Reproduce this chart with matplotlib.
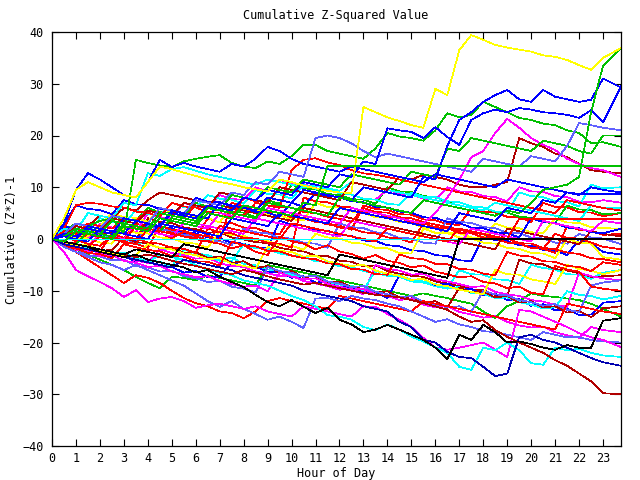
import numpy as np
import matplotlib
matplotlib.use("Agg")
import matplotlib.pyplot as plt

plt.rcParams["font.family"] = ["DejaVu Sans Mono"]

# =========================
# DATA (half-hour grid + last point at 23:45)
# =========================
hours = np.append(np.arange(0, 23.5, 0.5), 23.75)

yellow_top = [0, 4, 9.5, 11, 10, 9, 8.5, 8, 11, 14, 13.5, 12.8,
              12.2, 11.5, 11, 10.6, 10, 9.6, 9.2, 11.5, 11, 10.3, 9.8, 9.3,
              9, 8.9, 25.5, 24.5, 23.5, 22.8, 22, 21.5, 29, 27.8, 36.5, 39.4,
              38.5, 37.5, 37, 36.6, 36.2, 35.5, 35.2, 34.6, 33.6, 32.7, 35, 36.9]
green_top = [0, 0.5, 2, 1.5, 1, 3.5, 3, 2.5, 2, 5, 4.5, 4,
             3.5, 6, 5.5, 5, 4.5, 4, 7, 6.5, 6, 5.5, 5, 4.5,
             8, 7.5, 7, 6.5, 6, 5.5, 5, 7.5, 7, 6.5, 6, 5.5,
             5, 4.5, 5.5, 5, 7, 9.5, 10, 10.5, 12, 24.5, 33.5, 37]
blue_a = [0, 1, 0.5, 2, 1.5, 1, 4, 3.5, 3, 2.5, 5.5, 5,
          4.5, 4, 7, 6.5, 6, 5.5, 8, 7.5, 7, 9.5, 9, 8.5,
          8, 7.5, 10, 9.5, 9, 8.5, 8, 12, 11.5, 18, 23, 24.5,
          26.5, 27.8, 28.8, 27, 26.5, 28.8, 27.5, 27, 26.5, 26.9, 31, 29.3]
blue_b = [0, 0.5, 0, 2.5, 2, 1.5, 1, 3.5, 3, 2.5, 5, 4.5,
          4, 6.5, 6, 5.5, 8, 7.5, 9.5, 9, 8.5, 11, 10.5, 10,
          12.5, 12, 15, 14.5, 21.4, 21, 20.7, 19.5, 21.6, 19.7, 18.2, 23,
          24.3, 25, 24.5, 25.3, 25, 24.5, 24.3, 24, 23.4, 24.9, 22.5, 29.5]
slate_a = [0, 1, 3, 2.5, 2, 4.5, 4, 3.5, 3, 6, 5.5, 5,
           7.5, 7, 6.5, 9, 8.5, 11, 10.5, 13, 12.5, 12, 19.5, 20,
           19.5, 18.5, 17, 15.8, 16.5, 16, 15.5, 15, 14.5, 14, 13.5, 13,
           15.5, 15, 14.5, 14, 16, 15.5, 15, 18, 22.4, 22, 21.5, 21]
blue_c = [0, 3, 9.5, 12.7, 11.5, 10, 8.5, 8, 11, 15.3, 13.9, 14.7,
          14, 13.5, 13, 14.5, 14, 15.5, 17.8, 17, 15.5, 14.5, 14, 13.5,
          13, 14, 13.5, 13, 12.5, 12, 11.5, 11, 12.5, 12, 11.5, 11,
          10.5, 10, 11.5, 11, 10.5, 10, 9.5, 9, 8.5, 10, 9.5, 9]
green_a = [0, 1, 0.5, 2.5, 3.5, 4, 1, 15.3, 14.7, 14.2, 13.9, 15,
           15.5, 15.9, 16.2, 14.7, 14, 13.7, 15, 14.5, 16, 18.2, 18.2, 17,
           16.5, 16, 15.5, 17.5, 20.5, 19.8, 19.5, 19, 21, 24.3, 23.5, 24,
           26.5, 25.5, 24.5, 23.4, 23, 22.3, 22, 21, 20.5, 18.5, 18.7, 17.8]
green_b = [0, -0.5, -1, 1.5, 1, 0.5, 3, 2.5, 2, 1.5, 4, 3.5,
           3, 6, 5.5, 8.5, 8, 7.5, 10, 9.5, 9, 11.5, 11, 10.5,
           10, 12.5, 12, 11.5, 11, 10.5, 13, 12.5, 12, 17.5, 17, 19.5,
           19, 18.5, 18, 17.5, 17, 19, 18.5, 18, 17, 16.5, 20, 20]
green_flat = [0, -0.5, 1.5, 1, 0.5, 0, 2.5, 2, 1.5, 4, 3.5, 3,
              2.5, 5, 4.5, 4, 6.5, 6, 5.5, 5, 4.5, 7, 6.5, 14.1,
              14.1, 14.1, 14.1, 14.1, 14.1, 14.1, 14.1, 14.1, 14.1, 14.1, 14.1, 14.1,
              14.1, 14.1, 14.1, 14.1, 14.1, 14.1, 14.1, 14.1, 14.1, 14.1, 14.1, 14.1]
blue_flat = [0, 0.5, 0, -0.5, 2, 1.5, 1, 0.5, 0, 3, 2.5, 2,
             1.5, 1, 0.5, 4, 3.5, 3, 2.5, 5, 4.5, 4, 3.5, 3,
             6, 5.5, 5, 4.5, 4, 3.5, 3, 2.5, 2, 1.5, 5, 4.5,
             4, 3.5, 6, 5.5, 5, 7.5, 7, 9, 8.7, 8.7, 8.7, 8.7]
red_flat = [0, -0.5, -1, -1.5, 0.5, 0, -0.5, -1, 2, 1.5, 1, 0.5,
            0, -0.5, 2.5, 2, 1.5, 1, 0.5, 0, 3, 2.5, 2, 1.5,
            1, 0.5, 0, -0.5, 2, 1.5, 1, 0.5, 0, -0.5, 2, 1.5,
            1, 0.5, 0, 3.9, 3.9, 3.9, 3.9, 3.9, 3.9, 3.9, 3.9, 3.9]
cyan_flat = [0, 0, 0, 0, 0, 0, 0, 0, 0, 0, 0, 0,
             0, 0, 0, 0, 0, 0, 0, 0, 0, 0, 0, 0,
             0, 0, 0, 0, 0, 0, 0, 0, 0, 0, 0, 0,
             0, 0, 0, 0, 0, 0, 0, 0, 0, 0, 0, 0]
black_flat = [0, -0.5, -1, -1.5, -2, -2.5, -3, -2, -2.5, -3, -3.5, -1,
              -1.5, -2, -2.5, -3, -3.5, -4, -4.5, -5, -5.5, -6, -6.5, -7,
              -3, -3.5, -4, -4.5, -5, -5.5, -6, -6.5, -7, -7.5, 0, 0,
              0, 0, 0, 0, 0, 0, 0, 0, 0, 0, 0, 0]
black_low = [0, -0.5, -1, -1.5, -2.5, -3, -3.5, -3, -4, -4.5, -5, -5.5,
             -6.5, -6, -7.3, -8.3, -9.3, -10.8, -12.2, -13, -11.8, -13.1, -14.3, -13.3,
             -15.6, -16.5, -18, -17.5, -16.6, -17.5, -18.5, -19.5, -21, -23.2, -18.5, -19.5,
             -16.6, -18, -20, -19.8, -20.3, -21, -21.4, -20.5, -21, -21, -15.8, -15.3]
darkred_low = [0, -0.5, -1, -1.5, -2, -2.5, -3, -3.5, -3, -3.5, -4.2, -4.8,
               -5.2, -5.8, -6.3, -6.8, -6, -6.5, -7.2, -7.8, -8.3, -8.8, -8.5, -9,
               -9.5, -10, -10.4, -10.8, -11, -11.3, -11.8, -12.4, -13, -13.7, -15, -16,
               -15.7, -17.6, -18.9, -20, -21, -22, -23.4, -24.5, -26, -27.5, -29.8, -30]
navy_low = [0, -1, -1.5, -2, -2.5, -3, -3.5, -4, -4.5, -5, -5.5, -4,
            -4.5, -5, -5.5, -6, -7, -7.5, -8, -8.5, -9, -10, -10.5, -11,
            -11.5, -12, -13, -13.5, -14, -16, -17, -19.5, -20, -21.8, -22.8, -23,
            -24.7, -26.5, -26, -19, -18.5, -19.5, -20, -21, -22, -23, -23.8, -24.5]
cyan_low = [0, -1, -1.5, -2, -2.5, -3, -3.5, -4, -4.5, -3, -3.5, -4,
            -5, -6, -6.5, -7, -8, -8.5, -9, -10, -11, -11.8, -13, -14.7,
            -15, -15.6, -17, -17.6, -16.5, -17.5, -18.9, -19.8, -20.9, -22, -24.7, -25.3,
            -21, -21.5, -20, -21.5, -24, -24.3, -21, -21.5, -21.2, -22, -22.5, -22.8]
magenta_low = [0, -2.5, -6, -7.2, -8.3, -9.5, -11.2, -9.9, -12.2, -11.5, -11.2, -12,
               -13.3, -12.8, -12.5, -13, -13.5, -13, -14, -14.5, -15, -13, -13.5, -14,
               -14.5, -15, -13, -13.1, -14.5, -15.6, -17, -19.1, -21, -21.4, -21, -20.5,
               -20, -21.4, -22.8, -13.7, -14, -15, -16, -17, -18.2, -19, -19.5, -20.9]
red_low = [0, -1, -2.5, -4, -5.5, -7, -8.5, -7, -7.5, -8.5, -10, -11.4,
           -12.4, -13, -14, -14.3, -15.3, -14, -12, -11.4, -12, -12.5, -13, -13.5,
           -11, -11.5, -12, -12.5, -13, -13.5, -14, -12, -12.5, -13, -13.5, -14,
           -14.5, -15, -15.5, -16, -16.5, -17, -17.5, -12.5, -13, -13.5, -14, -14.5]
slate_low = [0, -1.5, -2.5, -3.5, -4.5, -5, -6, -5, -6, -7, -8, -9,
             -10.5, -12, -13.1, -12, -13.5, -14.5, -15.6, -15, -16, -17.2, -11.5, -11.4,
             -12, -11, -11.5, -11.8, -12.5, -13, -14, -15, -16, -15.5, -16.5, -17,
             -17.8, -18, -18.5, -19, -19.5, -18, -18.5, -19, -19, -19.5, -19.8, -20]
darkred_up = [0, 0.5, 2.5, 2, 1.5, 4, 3.5, 3, 5.5, 5, 4.5, 7,
              6.5, 6, 9, 8.5, 8, 7.5, 7, 10, 9.5, 9, 8.5, 8,
              7.5, 11, 10.5, 10, 9.5, 12, 11.5, 12.4, 12, 11.5, 10.5, 10,
              10, 10.5, 11, 19.5, 18.5, 17.8, 16.5, 15.8, 14.5, 13.3, 13, 12.7]
magenta_up = [0, -0.5, 1.5, 1, 0.5, 0, 2.5, 2, 1.5, 1, 0.5, 3,
              2.5, 2, 5, 4.5, 4, 3.5, 6, 5.5, 5, 4.5, 4, 3.5,
              3, 6, 5.5, 5, 4.5, 4, 3.5, 3, 5, 8, 11.4, 15.8,
              17, 20.5, 23.2, 21.5, 19.5, 18.2, 17.2, 15.5, 14.5, 13.7, 13.3, 12]
red_up = [0, 1.5, 1, 3, 2.5, 2, 4, 3.5, 5.5, 5, 4.5, 4,
          6.5, 6, 5.5, 5, 4.5, 7, 6.5, 6, 13.3, 15.3, 15.6, 14.8,
          14.3, 13.3, 12.7, 12.4, 12, 11.5, 11, 10.5, 10, 9.5, 9, 8.5,
          8, 7.5, 7, 6.5, 6, 5.5, 5, 7.5, 7, 6.5, 6, 5.5]
cyan_up = [0, 2, 1.5, 5, 4.5, 4, 7, 6.5, 12.7, 12.2, 13.5, 13.9,
           13.2, 12.5, 12, 11.5, 11, 10.5, 11.5, 11, 10.5, 10, 10.3, 9.8,
           9.3, 11, 10.5, 10, 9.5, 9, 8.5, 8, 7.5, 7, 6.5, 6,
           5.5, 7, 6.5, 6, 5.5, 5, 4.5, 4, 3.5, 6.5, 6, 6]
magenta_mid = [0, 1, 0.3, 0.1, 3, 2.2, 2.1, 1.3, 5, 4.2, 4.1, 7,
               6.3, 6.1, 8.5, 7.7, 7.6, 10, 9.2, 11.5, 10.7, 10.6, 9.8, 9.6,
               8.8, 8.6, 7.8, 7.6, 9.5, 8.8, 8.6, 7.8, 7.6, 10, 9.2, 9.1,
               8.3, 8.1, 7.3, 10, 9.2, 9.1, 8.3, 8.1, 7.2, 7.1, 7.5, 7]
red_mid_a = [0, 0.6, -0.4, 1.5, 1.2, 0.3, 0.1, 3, 2.3, 2.1, 1.2, 1.0,
             0.3, 4, 3.2, 3.1, 2.2, 2.1, 1.3, 0.9, 4.5, 3.8, 3.6, 2.8,
             2.6, 1.8, 6.5, 5.8, 5.6, 4.8, 4.7, 3.8, 3.6, 2.9, 2.7, 6,
             5.3, 5.1, 4.3, 4.2, 3.3, 7, 6.2, 6.1, 5.2, 5.1, 4.4, 5]
yellow_mid = [0, 1.5, 0.8, 0.6, 2.5, 5, 4.2, 4.1, 3.3, 6, 5.2, 5.1,
              4.3, 4.1, 3.2, 6.5, 5.8, 5.6, 4.8, 4.6, 3.8, 3.6, 7, 6.2,
              6.1, 5.3, 5.1, 4.2, 4.1, 3.3, 3.1, 2.2, 2.1, 1.3, 1.1, 0.3,
              0.1, 3, 2.2, 2.1, 1.3, 1.1, 4, 3.2, 3.1, 2.3, 2.1, 2]
red_mid_b = [0, -0.6, -0.8, 1, 0.3, 0.1, -0.7, -0.9, -1.7, 2.5, 1.8, 1.6,
             0.8, 0.6, -0.2, 7, 6.3, 6.1, 5.3, 5.1, 4.2, 4.1, 3.3, 3.1,
             2.2, 2.1, 1.3, 1.1, 0.3, 0.1, -0.7, 3, 2.3, 2.1, 1.2, 1.1,
             0.3, 0.1, -0.7, -0.9, -1.7, -1.9, -2.7, 2.5, 1.8, 1.6, 0.8, 1]
slate_mid = [0, -0.6, 2, 1.3, 1.1, 0.3, 0.1, -0.7, 2.5, 1.8, 1.6, 0.8,
             0.6, -0.2, -0.4, -1.2, 2, 1.3, 1.1, 0.2, 0.1, -0.7, -0.9, -1.7,
             3, 2.3, 2.1, 1.3, 1.1, 0.2, 0.1, -0.7, -0.9, 4, 3.3, 3.1,
             2.3, 2.1, 1.2, 1.1, 0.3, 0.1, -0.7, -0.9, 1, 0.3, 0.1, -1]
red_mid_c = [0, -1.2, -1.4, -2.2, -2.4, 1, 0.2, 0.1, -0.7, -0.9, -1.7, -1.9,
             -2.7, 2, 1.3, 1.1, 0.2, 0.1, -0.7, -0.9, -1.7, 8, 7.3, 7.1,
             6.3, 6.1, 5.2, 5.1, 4.3, 4.1, 3.2, 3.1, 2.2, 2.1, 1.3, 1.1,
             0.3, 0.1, -0.7, -0.9, -1.7, -1.9, 1, 0.2, 0.1, -0.7, -1.5, -2]
blue_mid = [0, 2.5, 1.8, 1.6, 0.8, 0.6, -0.2, -0.4, 3, 2.3, 2.1, 1.2,
            1.1, 0.3, 0.1, -0.7, -0.9, -1.6, -1.8, 3.5, 2.8, 2.6, 1.7, 1.6,
            0.8, 0.6, -0.3, -0.4, -1.2, -1.4, -2.2, -2.3, -3.1, -3.3, -4.1, -4.3,
            0.5, -0.2, -0.4, -1.2, -1.3, -2.1, -2.3, -3.1, 0, -0.8, -2.5, -3]
yellow_low = [0, 1, 0.3, 0.1, -0.7, -0.9, 2, 1.2, 1.1, 0.3, 0.1, -0.7,
              -0.9, -1.7, 1.5, 0.7, 0.6, -0.2, -0.4, -1.2, -1.3, -2.1, 1, 0.3,
              0.1, -0.7, -0.9, -1.7, -1.8, -2.7, -2.8, 2, 1.2, 1.1, 0.3, 0.1,
              -0.7, -0.9, -1.7, -1.9, -2.7, -2.8, -3.7, 0, -0.7, -0.9, -3.5, -4]
red_mid_d = [0, -1.2, -1.8, -2.7, -2.9, -3.7, -1.0, -1.6, -2.1, -2.4, -3.3, -3.4,
             -4.3, -4.4, -5.2, -0.5, -1.2, -1.4, -2.3, -2.4, -3.2, -3.7, -3.9, -4.7,
             -4.9, -5.8, -5.9, -6.8, -6.9, -3.0, -3.7, -3.9, -4.8, -4.9, -5.8, -5.9,
             -6.7, -7.0, -2.5, -3.2, -3.4, -4.3, -4.4, -5.2, -5.4, -6.2, -4.5, -5]
cyan_mid = [0, -0.9, -1.6, -1.8, 1.0, 0.3, 0.1, -0.8, -0.9, -1.8, -2.0, -2.7,
            -3.1, -3.4, -4.2, -4.3, -1.0, -1.8, -1.9, -2.8, -3.2, -3.4, -4.3, -4.4,
            -5.3, -5.4, -6.2, -6.6, -7.1, -7.3, -8.2, -8.4, -9.1, -9.6, -6.0, -6.8,
            -6.9, -7.8, -7.9, -8.7, -5.0, -5.6, -5.9, -6.8, -6.9, -7.7, -6.5, -6]
darkred_mid = [0, -0.6, -1.1, 2.0, 1.3, 1.1, 0.2, -0.1, 4.0, 3.3, 3.1, 2.2,
               1.9, 1.2, 1.4, 0.3, -0.1, -0.6, -0.8, -1.7, -2.1, -2.4, -3.2, -3.3,
               -4.2, -4.4, -5.3, -5.1, -6.2, -6.7, -7.1, -7.3, -8.2, -8.6, -9.1, -9.7,
               -9.9, -10.8, -11.0, -4.0, -4.7, -4.9, -5.8, -6.1, -6.6, -7.3, -7.2, -7]
magenta_mid_b = [0, -0.7, -1.6, -1.9, -2.8, -3.2, -3.1, -4.2, -4.6, -2.0, -2.7, -3.1,
                 -3.8, -3.6, -4.7, -5.2, -5.4, -6.3, -6.6, -7.2, -7.0, -8.1, -8.6, -9.1,
                 -9.8, -9.6, -10.7, -5.0, -5.8, -6.1, -6.9, -6.7, -7.8, -8.2, -8.7, -9.3,
                 -9.1, -10.2, -10.7, -11.0, -11.8, -12.1, -12.7, -13.1, -6.5, -7.2, -7.6, -8]
green_low = [0, -1, -2, -3, -4, -5, -6, -7.3, -8.5, -9.5, -7.3, -7.5,
             -8, -7, -7.5, -8, -8.5, -9, -5, -5.5, -6, -6.5, -7, -7.5,
             -8, -8.5, -9, -9.5, -10, -10.5, -11, -10.5, -11, -11.4, -12, -12.5,
             -14, -15.3, -13, -12, -10.5, -11, -11.2, -11.5, -11.8, -12.5, -13.5, -15]
red_mid_e = [0, 0.8, -0.2, -0.9, -1.3, 0.6, -0.4, 2.5, 1.6, 1.1, 0.2, 1.4,
             0.6, -0.5, -0.9, -1.8, -1.2, -2.5, -3.1, 0.5, -0.4, -0.9, -2.0, -1.2,
             -2.4, -2.9, -3.8, -3.1, -4.2, -4.6, -5.5, -5.1, -6.3, -6.8, -7.4, -7.2,
             -8.3, -8.6, -9.5, -9.2, -10.4, -10.7, -5.2, -5.9, -6.3, -9.2, -9.6, -10]
cyan_mid_b = [0, -0.7, -0.9, -1.8, -2.1, -2.9, -2.6, -3.8, -4.1, -4.4, -5.3, -2.0,
              -2.8, -3.1, -3.9, -3.6, -4.8, -5.1, -5.9, -6.1, -6.9, -7.3, -7.2, -8.3,
              -8.8, -9.0, -9.9, -6.1, -6.8, -7.0, -7.9, -8.2, -8.7, -9.5, -9.3, -10.4,
              -10.6, -11.4, -11.3, -12.2, -12.7, -13.4, -13.2, -10.1, -10.8, -11.0, -11.7, -11]
blue_low = [0, -1.2, -1.4, -2.3, -2.2, -3.4, -3.3, -4.4, -4.2, -5.3, -5.4, -6.5,
            -6.2, -7.4, -7.3, -4.5, -5.4, -5.2, -6.4, -6.3, -7.5, -7.2, -8.4, -8.3,
            -9.4, -9.2, -10.3, -10.2, -11.4, -7.0, -7.9, -7.7, -8.9, -8.6, -9.8, -9.6,
            -10.9, -10.6, -11.8, -11.6, -12.9, -12.6, -13.8, -13.5, -14.7, -14.6, -12.3, -12]
darkred_mid_b = [0, -0.4, -1.3, -1.2, -2.3, -2.1, 0.3, -0.6, -0.8, -1.8, -1.6, -2.7,
                 -2.5, -3.7, -3.4, -4.6, -4.3, -5.6, -5.2, -6.5, -6.2, -7.4, -7.1, -8.5,
                 -8.2, -9.4, -9.1, -10.4, -10.1, -11.3, -11.1, -12.4, -12.0, -13.3, -9.4, -10.3,
                 -10.2, -11.3, -11.0, -12.3, -12.0, -13.2, -13.0, -14.2, -13.9, -15.1, -13.4, -13]
magenta_low_b = [0, -0.8, -2.1, -2.4, -3.3, -3.1, -4.2, -4.6, -5.4, -5.2, -6.3, -6.8,
                 -7.4, -7.2, -8.1, -8.7, -9.2, -9.0, -10.1, -6.5, -7.3, -7.8, -7.6, -8.7,
                 -9.2, -9.8, -9.6, -10.7, -11.0, -11.8, -11.5, -12.7, -13.2, -13.0, -14.1, -14.6,
                 -15.2, -14.9, -16.0, -16.7, -17.1, -16.9, -18.0, -18.6, -19.1, -17.0, -17.6, -18]
green_mid = [0, 1.5, 3, 2.3, 2.1, 4.5, 3.8, 3.6, 6, 5.2, 5.1, 4.3,
             7, 6.2, 6.1, 5.3, 5.1, 4.2, 7.5, 6.8, 10.5, 9.8, 9.6, 8.7,
             8.5, 7.7, 7.6, 6.8, 10, 9.2, 9.1, 8.3, 8.1, 7.2, 7.1, 6.3,
             6.1, 5.2, 5.1, 4.3, 4.1, 3.2, 3.1, 6.5, 5.7, 5.6, 4.8, 5]
cyan_up_b = [0, 0.5, 2, 1.3, 4, 3.3, 3.1, 5.5, 4.8, 4.6, 7, 6.2,
             6.1, 8.5, 7.8, 7.6, 6.8, 9.5, 8.7, 8.6, 7.8, 10.5, 9.7, 9.6,
             8.8, 8.6, 7.8, 7.6, 6.8, 6.6, 9, 8.2, 8.1, 7.3, 7.1, 6.3,
             6.1, 5.3, 5.1, 9, 8.3, 8.1, 7.3, 7.1, 6.3, 10.5, 9.8, 10]
blue_up = [0, 3, 6.5, 5.8, 5.6, 4.8, 7.5, 6.7, 6.6, 5.8, 5.6, 4.8,
           8, 7.2, 7.1, 6.3, 6.1, 5.2, 5.1, 4.3, 7, 6.2, 9, 8.3,
           8.1, 7.3, 7.1, 6.2, 6.1, 5.3, 5.1, 4.2, 4.1, 3.3, 3.1, 2.2,
           2.1, 1.3, 1.1, 0.3, 4, 3.3, 3.1, 2.2, 2.1, 1.3, 1.1, 2]
red_up_b = [0, 2, 6.5, 7, 6.8, 6.3, 6.1, 5.3, 5.1, 4.3, 7, 6.3,
            6.1, 5.2, 5.1, 4.2, 8, 7.3, 7.1, 6.2, 6.1, 5.2, 5.0, 4.3,
            3.9, 3.3, 6, 5.2, 5.1, 4.2, 4.0, 3.3, 2.8, 2.3, 1.8, 1.3,
            0.9, 0.2, 0.1, -0.8, -0.9, -1.7, -2.0, -2.6, -2.9, -3.7, -3.9, -4.5]
darkred_up_b = [0, 1, 3, 2.5, 4.5, 4, 6, 5.5, 7.5, 9, 8.5, 8,
                7.5, 7, 6.5, 6, 5.5, 5, 4.5, 4, 3.5, 6, 5.5, 5,
                4.5, 4, 3.5, 3, 2.5, 2, 1.5, 1, 0.5, 0, -0.5, -1,
                -1.5, -2, 2, 1.5, 1, 0.5, 0, -0.5, -1, 1.5, 1, 0.5]
magenta_mid_c = [0, -0.5, -1, -1.5, 1, 0.5, 0, 2.5, 2, 1.5, 4, 3.5,
                 3, 2.5, 2, 1.5, 1, 4, 3.5, 3, 2.5, 2, 1.5, 1,
                 0.5, 3.5, 3, 2.5, 2, 1.5, 1, 0.5, 0, -0.5, -1, 2,
                 1.5, 1, 0.5, 0, -0.5, 3.5, 3, 2.5, 2, 1.5, 3.5, 3]
yellow_low_b = [0, -0.6, -1.2, -1.1, -2.2, -2.7, -3.3, -3.1, -1.0, -1.7, -2.0, -2.8,
                -3.1, -3.9, -3.7, -4.8, -5.2, -5.7, -1.5, -2.3, -2.5, -3.4, -3.2, -4.3,
                -4.8, -5.2, -5.0, -6.1, -6.7, -7.1, -7.9, -7.7, -8.8, -9.1, -9.8, -10.2,
                -10.7, -6.0, -6.8, -6.9, -7.8, -8.2, -8.7, -5.0, -5.8, -6.1, -6.8, -6]
slate_low_b = [0, -1.1, -1.9, -3.2, -3.4, -4.1, -4.0, -5.2, -5.5, -6.3, -6.1, -7.2,
               -7.6, -8.3, -8.1, -9.2, -9.6, -10.3, -5.4, -6.2, -6.5, -7.3, -7.1, -8.2,
               -8.6, -9.3, -9.1, -10.2, -10.7, -11.3, -11.0, -12.1, -12.7, -13.2, -13.0, -14.1,
               -10.0, -10.7, -10.9, -11.8, -12.2, -12.9, -12.6, -13.7, -14.1, -9.0, -8.4, -8]

# gnuplot-like pen colours
RED, GREEN, BLUE, MAGENTA = "#ff0000", "#00c000", "#0000ff", "#ff00ff"
CYAN, DARKRED, YELLOW, BLACK = "#00ffff", "#b00000", "#ffff00", "#000000"
SLATE, NAVY = "#6060ff", "#0000b0"

lines = [
    (red_mid_a, RED), (green_mid, GREEN), (blue_mid, BLUE), (magenta_mid, MAGENTA),
    (cyan_mid, CYAN), (darkred_mid, DARKRED), (yellow_mid, YELLOW), (slate_mid, SLATE),
    (red_mid_b, RED), (green_low, GREEN), (blue_low, BLUE), (magenta_mid_b, MAGENTA),
    (cyan_mid_b, CYAN), (darkred_mid_b, DARKRED), (yellow_low, YELLOW), (slate_low_b, SLATE),
    (red_mid_c, RED), (magenta_low_b, MAGENTA), (cyan_up_b, CYAN), (darkred_up_b, DARKRED),
    (yellow_low_b, YELLOW), (red_mid_d, RED), (blue_up, BLUE), (magenta_mid_c, MAGENTA),
    (red_mid_e, RED), (red_up_b, RED), (cyan_up, CYAN), (red_low, RED),
    (slate_low, SLATE), (magenta_low, MAGENTA), (cyan_low, CYAN), (navy_low, NAVY),
    (darkred_low, DARKRED), (black_low, BLACK), (red_up, RED), (darkred_up, DARKRED),
    (magenta_up, MAGENTA), (green_b, GREEN), (green_a, GREEN), (blue_c, BLUE),
    (slate_a, SLATE), (blue_b, BLUE), (blue_a, BLUE), (green_top, GREEN),
    (yellow_top, YELLOW), (red_flat, RED), (blue_flat, BLUE), (cyan_flat, CYAN),
    (black_flat, BLACK), (green_flat, GREEN),
]

# =========================
# PLOT
# =========================
fig = plt.figure(figsize=(6.4, 4.8), dpi=100)
ax = fig.add_axes([52 / 640, 1 - 446 / 480, (621 - 52) / 640, (446 - 32) / 480])

for values, color in lines:
    ax.plot(hours, values, color=color, lw=0.5, antialiased=False)

ax.set_xlim(0, 23.75)
ax.set_ylim(-40, 40)
ax.set_xticks(range(24))
ax.set_yticks(range(-40, 41, 10))
ax.tick_params(direction="in", length=5, width=0.8, top=True, right=True,
               labelsize=8.5, colors="black")
ax.tick_params(axis="x", pad=4)
ax.tick_params(axis="y", pad=6)
for sp in ax.spines.values():
    sp.set_linewidth(0.9)

fig.text(336 / 640, 1 - 15 / 480, "Cumulative Z-Squared Value", ha="center", va="center", fontsize=8.5)
fig.text(336 / 640, 1 - 474 / 480, "Hour of Day", ha="center", va="center", fontsize=8.5)
fig.text(12 / 640, 0.5, "Cumulative (Z*Z)-1", ha="center", va="center", rotation=90, fontsize=8.5)

fig.savefig("out.png", dpi=100)
